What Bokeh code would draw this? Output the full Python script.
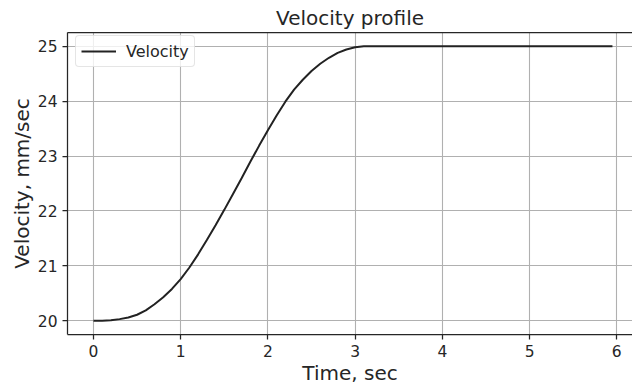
from bokeh.plotting import figure
from bokeh.models import Range1d, LinearAxis, FixedTicker, Legend, LegendItem
from bokeh.embed import file_html
from bokeh.resources import INLINE

# Values
time_s = [0.0, 0.1, 0.2, 0.3, 0.4, 0.5, 0.6, 0.7, 0.8, 0.9,
          1.0, 1.1, 1.2, 1.3, 1.4, 1.5, 1.6, 1.7, 1.8, 1.9,
          2.0, 2.1, 2.2, 2.3, 2.4, 2.5, 2.6, 2.7, 2.8, 2.9,
          3.0, 3.1, 3.2, 3.5, 4.0, 4.5, 5.0, 5.5, 5.95]
velocity = [20.00, 20.00, 20.01, 20.03, 20.06, 20.11, 20.19, 20.30, 20.43, 20.58,
            20.76, 20.97, 21.21, 21.47, 21.74, 22.02, 22.31, 22.60, 22.90, 23.19,
            23.47, 23.74, 23.99, 24.21, 24.39, 24.55, 24.68, 24.79, 24.88, 24.94,
            24.98, 25.00, 25.00, 25.00, 25.00, 25.00, 25.00, 25.00, 25.00]
x_ticks = [0, 1, 2, 3, 4, 5, 6]
y_ticks = [20, 21, 22, 23, 24, 25]

TXT = "#262626"
FONT = "DejaVu Sans"

p = figure(width=632, height=387, output_backend="svg", toolbar_location=None,
           x_range=Range1d(-0.2975, 6.18), y_range=Range1d(19.75, 25.25),
           min_border_left=67, min_border_right=0, min_border_top=32,
           min_border_bottom=52, outline_line_color=None,
           background_fill_color="white", border_fill_color="white")

p.title.text = "Velocity profile"
p.title.align = "center"
p.title.text_font = FONT
p.title.text_font_size = "20px"
p.title.text_font_style = "normal"
p.title.text_color = TXT
p.title.offset = 2
p.title.standoff = 5

line = p.line(time_s, velocity, line_color="#222222", line_width=2)

for ax in (p.xaxis[0], p.yaxis[0]):
    ax.axis_line_color = "#262626"
    ax.axis_line_width = 1.25
    ax.major_tick_line_color = "#262626"
    ax.major_tick_line_width = 1.25
    ax.major_tick_out = 5
    ax.major_tick_in = 0
    ax.minor_tick_line_color = None
    ax.major_label_text_font = FONT
    ax.major_label_text_font_size = "15.5px"
    ax.major_label_text_color = TXT
    ax.axis_label_text_font = FONT
    ax.axis_label_text_font_size = "20px"
    ax.axis_label_text_font_style = "normal"
    ax.axis_label_text_color = TXT

p.xaxis.ticker = FixedTicker(ticks=x_ticks)
p.yaxis.ticker = FixedTicker(ticks=y_ticks)
p.xaxis.axis_label = "Time, sec"
p.yaxis.axis_label = "Velocity, mm/sec"
p.xaxis.major_label_standoff = 5
p.xaxis.axis_label_standoff = 1
p.yaxis.major_label_standoff = 5
p.yaxis.axis_label_standoff = 1

top = LinearAxis(ticker=FixedTicker(ticks=[]), axis_line_color="#262626",
                 axis_line_width=1.25, major_tick_line_color=None,
                 minor_tick_line_color=None, major_label_text_font_size="0px",
                 major_tick_out=0, major_label_standoff=0)
p.add_layout(top, "above")

p.xgrid.ticker = FixedTicker(ticks=x_ticks)
p.ygrid.ticker = FixedTicker(ticks=y_ticks)
for g in (p.xgrid[0], p.ygrid[0]):
    g.grid_line_color = "#b0b0b0"
    g.grid_line_width = 1.1

legend = Legend(items=[LegendItem(label="Velocity", renderers=[line])],
                location=(8, 267), padding=5, margin=0, spacing=0,
                glyph_width=35, glyph_height=20, label_standoff=10,
                label_text_font=FONT, label_text_font_size="16px",
                label_text_color=TXT, border_line_color="#cccccc",
                border_line_width=1, background_fill_alpha=0.8,
                border_radius=4)
p.add_layout(legend)

open("out.html", "w").write(file_html(p, INLINE))
